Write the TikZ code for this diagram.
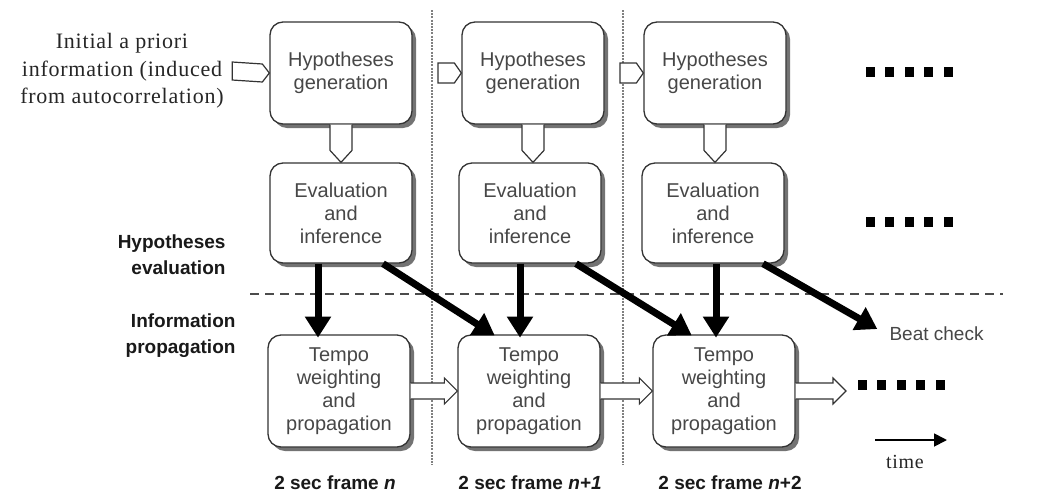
\documentclass[tikz,border=0pt]{standalone}
\usepackage{fontspec}
\setmainfont{Liberation Serif}
\newfontfamily\boxfont{Liberation Sans}
\newfontfamily\notefont[LetterSpace=3.5]{Liberation Serif}
\usetikzlibrary{shadows,arrows.meta,calc}

\tikzset{
  procbox/.style={draw=black!80, line width=1.3pt, rounded corners=13pt, fill=white,
    minimum width=142pt, minimum height=102pt, align=center, inner sep=2pt,
    font=\boxfont\fontsize{20}{23}\selectfont, text=black!72,
    drop shadow={shadow xshift=4pt, shadow yshift=-4pt, fill=black!55, opacity=1}},
  hollow/.style={draw=black!80, line width=1.2pt, fill=white, line join=miter},
  bigarrow/.style={line width=7pt, -{Triangle[length=21pt,width=25pt]}, shorten >=-2pt},
  rowlabel/.style={align=right, font=\boxfont\bfseries\fontsize{19}{26}\selectfont, text=black!90},
  framelabel/.style={font=\boxfont\bfseries\fontsize{19}{23}\selectfont, text=black!90},
  divider/.style={draw=black!50, line width=2pt, dash pattern=on 2pt off 1.2pt},
  splitline/.style={draw=black!70, line width=1.3pt, dash pattern=on 9pt off 6pt},
  squaredot/.style={fill=black, minimum width=9pt, minimum height=10pt, inner sep=0pt}
}

\begin{document}
\begin{tikzpicture}[x=1pt,y=-1pt]
\useasboundingbox[fill=white] (0,0) rectangle (1058,493);

% frame separators
\coordinate (va1) at (432,10);  \coordinate (vb1) at (432,465);
\coordinate (va2) at (623,10);  \coordinate (vb2) at (623,465);
\draw[divider] (va1) -- (vb1);
\draw[divider] (va2) -- (vb2);

% boundary between evaluation and propagation
\coordinate (dl) at (250,294); \coordinate (dr) at (1003,294);
\draw[splitline] (dl) -- (dr);

% processing boxes
\node[procbox] (h1) at (341,73) {Hypotheses\\generation};
\node[procbox] (h2) at (533,73) {Hypotheses\\generation};
\node[procbox] (h3) at (715,73) {Hypotheses\\generation};
\node[procbox, minimum height=100pt] (e1) at (341,213) {Evaluation\\and\\inference};
\node[procbox, minimum height=100pt] (e2) at (530,213) {Evaluation\\and\\inference};
\node[procbox, minimum height=100pt] (e3) at (713,213) {Evaluation\\and\\inference};
\node[procbox, minimum height=112pt] (t1) at (339,391) {Tempo\\weighting\\and\\propagation};
\node[procbox, minimum height=112pt] (t2) at (529,391) {Tempo\\weighting\\and\\propagation};
\node[procbox, minimum height=112pt] (t3) at (724,391) {Tempo\\weighting\\and\\propagation};

% a priori input
\node[font=\notefont\fontsize{22}{27.5}\selectfont, text=black!85, align=center] (prior) at (122,71)
  {Initial a priori\\information (induced\\from autocorrelation)};

% input stubs into the generation boxes
\draw[hollow] (prior.east) ++(5,-9) -- ($(h1.west)+(-7,-9)$) -- (h1.west)
  -- ($(h1.west)+(-7,9)$) -- ($(prior.east)+(5,9)$) -- cycle;
\coordinate (s2) at (438,73);
\coordinate (s3) at (620,73);
\draw[hollow] ($(s2)+(0,-10)$) -- ($(h2.west)+(-7,-10)$) -- (h2.west)
  -- ($(h2.west)+(-7,10)$) -- ($(s2)+(0,10)$) -- cycle;
\draw[hollow] ($(s3)+(0,-10)$) -- ($(h3.west)+(-7,-10)$) -- (h3.west)
  -- ($(h3.west)+(-7,10)$) -- ($(s3)+(0,10)$) -- cycle;

% generation -> evaluation
\foreach \a/\b in {h1/e1, h2/e2, h3/e3} {
  \draw[hollow] ($(\a.south)+(-11,0)$) -- ($(\a.south |- \b.north)+(-11,-12)$)
    -- (\a.south |- \b.north) -- ($(\a.south |- \b.north)+(11,-12)$) -- ($(\a.south)+(11,0)$);
}

% propagation between frames
\coordinate (tnext) at (846,391);
\draw[hollow] ($(t1.east)+(0,-8)$) -- ($(t2.west)+(-13,-8)$) -- ($(t2.west)+(-13,-13)$) -- (t2.west)
  -- ($(t2.west)+(-13,13)$) -- ($(t2.west)+(-13,8)$) -- ($(t1.east)+(0,8)$);
\draw[hollow] ($(t2.east)+(0,-8)$) -- ($(t3.west)+(-13,-8)$) -- ($(t3.west)+(-13,-13)$) -- (t3.west)
  -- ($(t3.west)+(-13,13)$) -- ($(t3.west)+(-13,8)$) -- ($(t2.east)+(0,8)$);
\draw[hollow] ($(t3.east)+(0,-8)$) -- ($(tnext)+(-13,-8)$) -- ($(tnext)+(-13,-13)$) -- (tnext)
  -- ($(tnext)+(-13,13)$) -- ($(tnext)+(-13,8)$) -- ($(t3.east)+(0,8)$);

% beat check
\node[font=\boxfont\fontsize{19}{23}\selectfont, text=black!72, anchor=west] (beat) at (886,334) {Beat check};

% information flow from evaluation
\draw[bigarrow] ($(e1.south)+(-23,0)$) -- ($(e1.south -| t1.north)+(-21,72)$);
\draw[bigarrow] ($(e1.south)+(42,0)$) -- ($(t2.north)+(-36,0)$);
\draw[bigarrow] ($(e2.south)+(-10,0)$) -- ($(e2.south)+(-10,72)$);
\draw[bigarrow] ($(e2.south)+(46,0)$) -- ($(t3.north)+(-34,0)$);
\draw[bigarrow] ($(e3.south)+(3,0)$) -- ($(e3.south)+(3,72)$);
\draw[bigarrow, shorten >=10pt] ($(e3.south)+(50,0)$) -- (beat.west);

% row labels
\node[rowlabel, anchor=east] (lhe) at (229,255) {Hypotheses\\evaluation};
\node[rowlabel, anchor=east] (lip) at (239,336) {Information\\propagation};

% frame labels
\node[framelabel] (f1) at (335,483) {2 sec frame \textit{n}};
\node[framelabel] (f2) at (530,483) {2 sec frame \textit{n+1}};
\node[framelabel] (f3) at (730,483) {2 sec frame \textit{n}+2};

% continuation marks
\foreach \i in {0,...,4} {
  \node[squaredot] at (870+19.5*\i,72) {};
  \node[squaredot] at (870+19.5*\i,222) {};
  \node[squaredot] at (862+19.5*\i,385) {};
}

% time axis
\coordinate (ta) at (875,440); \coordinate (tb) at (947,440);
\draw[line width=1.8pt, -{Triangle[length=13pt,width=13pt]}] (ta) -- (tb);
\node[font=\notefont\fontsize{20}{24}\selectfont, text=black!85] (time) at (905,462) {time};
\end{tikzpicture}
\end{document}
